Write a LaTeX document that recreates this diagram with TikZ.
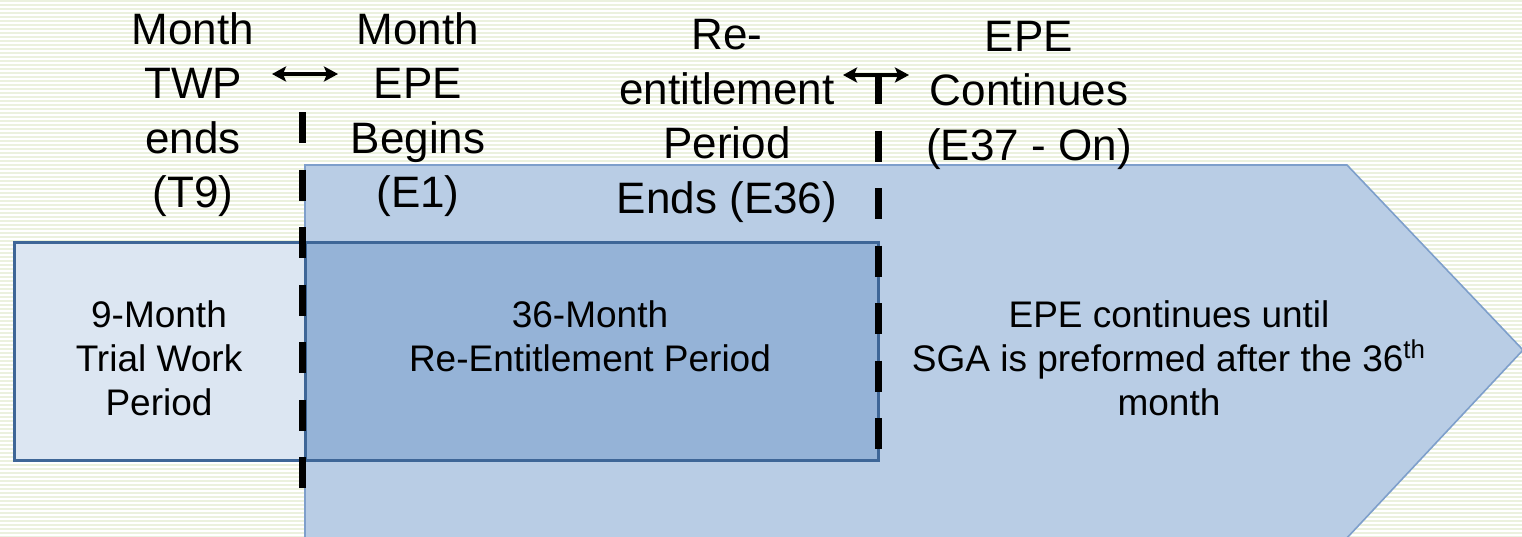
\documentclass[tikz,border=0pt]{standalone}
\usepackage{fontspec}
\setmainfont{Liberation Sans}
\usetikzlibrary{arrows.meta}
\definecolor{stripe}{HTML}{EBF1DE}
\definecolor{arrowfill}{HTML}{B9CDE5}
\definecolor{arrowline}{HTML}{7E9FCB}
\definecolor{midfill}{HTML}{95B3D7}
\definecolor{boxline}{HTML}{3E6697}
\definecolor{leftfill}{HTML}{DCE6F2}
\begin{document}
\begin{tikzpicture}[x=0.5pt,y=-0.5pt,
  toplabel/.style={align=center, font=\fontsize{22}{27.25}\selectfont, inner sep=0pt, anchor=base},
  boxtext/.style={align=center, font=\fontsize{18.5}{22}\selectfont, inner sep=0pt, anchor=base},
  periodbox/.style={draw=boxline, line width=1.5pt, inner sep=0pt},
  divider/.style={line width=3.5pt, line cap=butt, dash pattern=on 15.5pt off 13.25pt},
  span/.style={line width=1.6pt, {Stealth[length=7pt,width=7.5pt,inset=1.5pt]}-{Stealth[length=7pt,width=7.5pt,inset=1.5pt]}}
]
\useasboundingbox (0,0) rectangle (1522,536);
\clip (0,0) rectangle (1522,536);
\fill[white] (0,0) rectangle (1522,536);
\foreach \y in {1,5,...,537} \draw[stripe, line width=1pt] (0,\y) -- (1522,\y);

% big arrow
\draw[fill=arrowfill, draw=arrowline, line width=0.8pt]
  (305,165) -- (1347,165) -- (1523,350) -- (1345,540) -- (305,540) -- cycle;

% period boxes
\node[periodbox, fill=midfill, minimum width=286.5pt, minimum height=109pt] (rebox) at (591.5,351) {};
\node[periodbox, fill=leftfill, minimum width=145.5pt, minimum height=109pt] (twpbox) at (159.5,351) {};

% box texts (anchor base = baseline of last line)
\node[boxtext] (twptext) at (159,415) {9-Month\\Trial Work\\Period};
\node[boxtext] (retext) at (590,371) {36-Month\\Re-Entitlement Period};
\node[boxtext] (epetext) at (1169,415) {EPE continues until\\SGA is preformed after the 36\textsuperscript{th}\\month};

% top labels
\node[toplabel] (t9) at (193,207.5) {Month\\TWP\\ends\\(T9)};
\node[toplabel] (e1) at (418,207.5) {Month\\EPE\\Begins\\(E1)};
\node[toplabel] (e36) at (727,213) {Re-\\entitlement\\Period\\Ends (E36)};
\node[toplabel] (e37) at (1029,160) {EPE\\Continues\\(E37 - On)};

% dividers
\coordinate (d1top) at (302,112);
\coordinate (d1bot) at (302,488);
\coordinate (d2top) at (878,73);
\coordinate (d2bot) at (878,452);
\draw[divider] (d1top) -- (d1bot);
\draw[divider] (d2top) -- (d2bot);

% span arrows
\coordinate (a1l) at (272,74);
\coordinate (a1r) at (338,74);
\coordinate (a2l) at (843,75);
\coordinate (a2r) at (909,75);
\draw[span] (a1l) -- (a1r);
\draw[span, line width=1.9pt] (a2l) -- (a2r);
\end{tikzpicture}
\end{document}
